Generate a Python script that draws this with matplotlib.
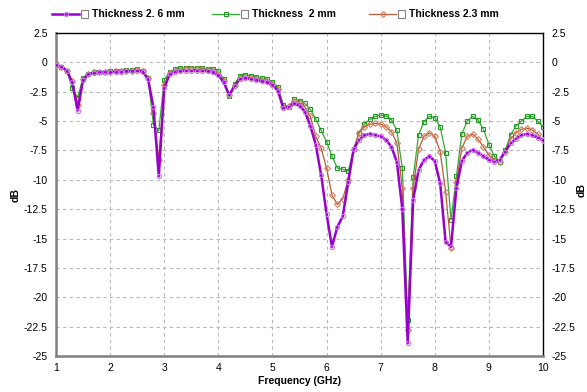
import numpy as np
import matplotlib
matplotlib.use("Agg")
import matplotlib.pyplot as plt
from matplotlib.lines import Line2D
from matplotlib.patches import Rectangle

plt.rcParams['font.family'] = ['Liberation Sans', 'DejaVu Sans']

# frequency grid (GHz)
freq = np.round(np.arange(1.0, 10.01, 0.1), 1)

# Thickness 2.6 mm
db_26 = [-0.2, -0.4, -0.7, -1.7, -4.1, -1.5, -1.0, -0.9, -0.85, -0.85,
         -0.85, -0.8, -0.8, -0.75, -0.75, -0.7, -0.8, -1.4, -3.8, -9.7,
         -2.2, -1.0, -0.8, -0.75, -0.7, -0.7, -0.7, -0.7, -0.75, -0.85,
         -1.1, -1.7, -2.8, -2.0, -1.4, -1.35, -1.4, -1.5, -1.6, -1.7,
         -1.9, -2.4, -3.9, -3.8, -3.5, -3.7, -4.2, -5.4, -7.0, -9.6,
         -12.9, -15.7, -14.0, -13.1, -10.2, -7.4, -6.6, -6.2, -6.1, -6.2,
         -6.3, -6.6, -7.2, -8.5, -12.5, -23.9, -11.7, -9.2, -8.3, -8.0,
         -8.4, -10.3, -15.3, -15.7, -10.7, -8.4, -7.7, -7.45, -7.7, -8.0,
         -8.3, -8.45, -8.3, -7.6, -6.9, -6.5, -6.2, -6.1, -6.2, -6.4,
         -6.6]

# Thickness 2 mm
db_20 = [-0.2, -0.4, -0.7, -2.2, -3.0, -1.3, -0.95, -0.85, -0.8, -0.8,
         -0.75, -0.7, -0.7, -0.65, -0.65, -0.6, -0.7, -1.3, -5.3, -5.8,
         -1.5, -0.8, -0.6, -0.5, -0.45, -0.45, -0.45, -0.5, -0.55, -0.6,
         -0.75, -1.4, -2.9, -1.8, -1.15, -1.05, -1.15, -1.25, -1.35, -1.45,
         -1.65, -2.1, -3.6, -3.8, -3.15, -3.25, -3.5, -4.0, -4.8, -5.8,
         -6.75, -8.0, -9.0, -9.1, -9.25, -7.4, -6.0, -5.25, -4.85, -4.6,
         -4.5, -4.55, -4.9, -5.8, -9.0, -21.9, -9.8, -6.2, -5.05, -4.6,
         -4.7, -5.5, -7.7, -13.4, -9.7, -6.1, -5.0, -4.6, -4.9, -5.7,
         -7.0, -8.0, -8.45, -7.5, -6.2, -5.4, -5.0, -4.6, -4.6, -5.0,
         -5.5]

# Thickness 2.3 mm
db_23 = [-0.2, -0.4, -0.7, -1.6, -3.6, -1.4, -1.0, -0.85, -0.8, -0.8,
         -0.8, -0.75, -0.75, -0.7, -0.7, -0.65, -0.75, -1.3, -4.3, -8.3,
         -1.9, -0.9, -0.7, -0.65, -0.6, -0.6, -0.6, -0.6, -0.65, -0.75,
         -1.0, -1.6, -2.8, -1.9, -1.3, -1.25, -1.3, -1.4, -1.5, -1.6,
         -1.8, -2.3, -3.8, -3.7, -3.3, -3.45, -3.8, -4.6, -6.3, -7.3,
         -9.0, -11.3, -12.1, -11.6, -10.0, -7.4, -6.0, -5.5, -5.27, -5.2,
         -5.25, -5.5, -5.9, -6.9, -10.7, -22.8, -10.7, -7.4, -6.3, -6.0,
         -6.3, -7.6, -11.0, -15.8, -10.2, -7.3, -6.3, -6.1, -6.55, -7.2,
         -7.9, -8.3, -8.5, -7.6, -6.55, -6.0, -5.7, -5.6, -5.75, -6.1,
         -6.6]

labels = ["Thickness 2. 6 mm", "Thickness  2 mm", "Thickness 2.3 mm"]
yticks = np.arange(-25, 2.6, 2.5)
ytick_labels = ["%g" % v for v in yticks]

purple = "#9900cc"
green = "#33aa33"
orange = "#b85a35"

fig = plt.figure(figsize=(5.87, 3.92), dpi=100)
ax = fig.add_axes([56 / 587, 1 - 356 / 392, 487 / 587, 323 / 392])

styles = [
    dict(color=green, lw=0.9, marker="s", ms=3.2, mfc="none", mec="#229922", mew=0.8),
    dict(color=orange, lw=0.9, marker="D", ms=3.0, mfc="none", mec="#d08060", mew=0.8),
    dict(color=purple, lw=1.8, marker="o", ms=3.0, mfc="none", mec="#cc77ee", mew=0.8),
]
ax.plot(freq, db_20, **styles[0], zorder=3)
ax.plot(freq, db_23, **styles[1], zorder=4)
ax.plot(freq, db_26, **styles[2], zorder=5)

ax.set_xlim(1, 10)
ax.set_ylim(-25, 2.5)
ax.set_xticks(np.arange(1, 11))
ax.set_yticks(yticks)
ax.set_yticklabels(ytick_labels)
ax.grid(True, color="#b8b8b8", ls=(0, (3, 3)), lw=0.8)
ax.tick_params(length=0, labelsize=7.5, pad=6, right=True, labelright=True)
ax.tick_params(axis="x", pad=5)

for s in ["left", "bottom"]:
    ax.spines[s].set_color("#808080")
    ax.spines[s].set_linewidth(1.8)
for s in ["top", "right"]:
    ax.spines[s].set_color("black")
    ax.spines[s].set_linewidth(1.0)

ax.set_xlabel("Frequency (GHz)", fontsize=7.5, fontweight="bold", labelpad=2)
ax.set_ylabel("dB", fontsize=7.5, fontweight="bold", labelpad=2)
fig.text(582 / 587, 1 - 190 / 392, "dB", rotation=90, fontsize=7.5,
         fontweight="bold", ha="center", va="center")

# legend drawn by hand: line + marker, check box, label
leg_x = [52, 212, 369]
leg_colors = [purple, green, orange]
leg_styles = [styles[2], styles[0], styles[1]]
ly = 1 - 14 / 392
for x0, st, lab in zip(leg_x, leg_styles, labels):
    st2 = dict(st)
    fig.add_artist(Line2D([x0 / 587, (x0 + 27) / 587], [ly, ly],
                          color=st2["color"], lw=st2["lw"]))
    fig.add_artist(Line2D([(x0 + 14) / 587], [ly], marker=st2["marker"],
                          ms=st2["ms"], mfc="none", mec=st2["mec"],
                          mew=st2["mew"], lw=0))
    fig.add_artist(Rectangle(((x0 + 29) / 587, ly - 4 / 392), 7 / 587, 8 / 392,
                             fill=False, ec="#808080", lw=0.8))
    fig.text((x0 + 40) / 587, ly, lab, fontsize=7.5, fontweight="bold",
             ha="left", va="center")

fig.savefig("out.png", dpi=100)
